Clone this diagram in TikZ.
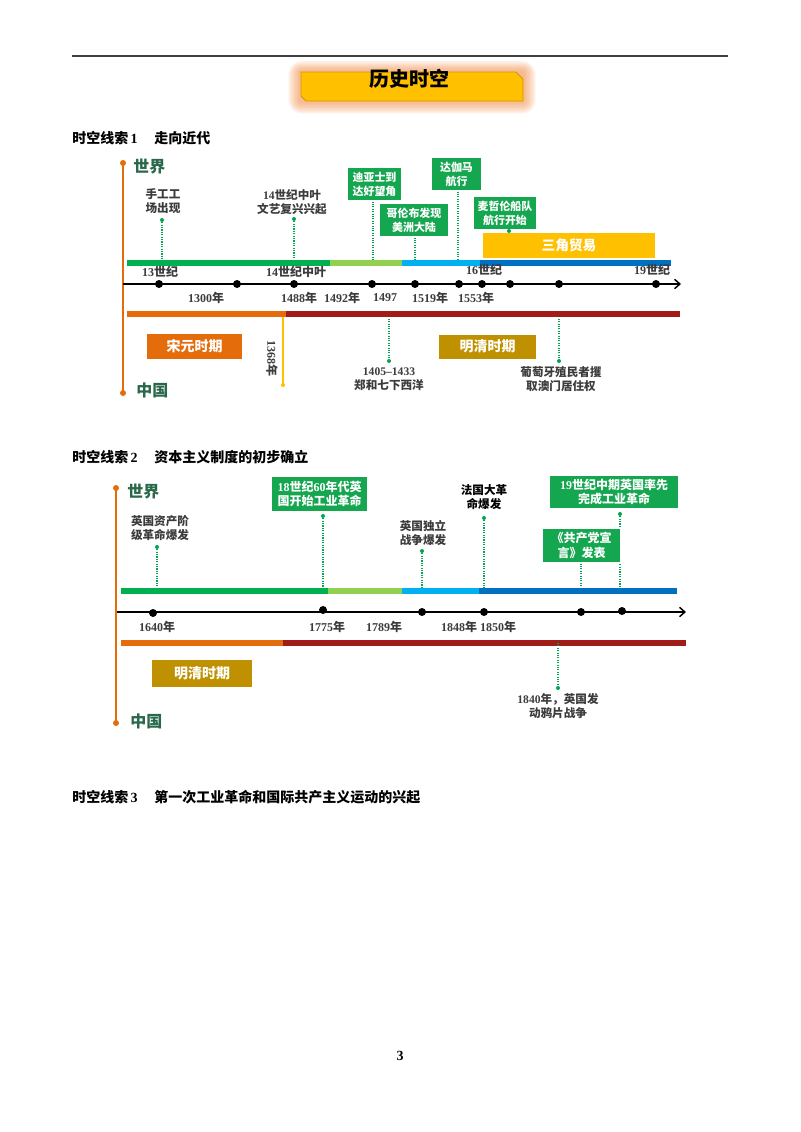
\documentclass[tikz,border=0pt]{standalone}
\usepackage{fontspec}
\setmainfont{Liberation Serif}
\newfontfamily\cjk{Noto Sans CJK SC}
\usetikzlibrary{arrows.meta}
\newcommand{\zh}[1]{{\cjk #1}}
\definecolor{boxgreen}{HTML}{15A650}
\definecolor{dkgreen}{HTML}{00B050}
\definecolor{ltgreen}{HTML}{92D050}
\definecolor{ltblue}{HTML}{00B0F0}
\definecolor{bluetwo}{HTML}{0070C0}
\definecolor{orng}{HTML}{E46C0A}
\definecolor{dkred}{HTML}{A11B17}
\definecolor{gold}{HTML}{BF9000}
\definecolor{ttl}{HTML}{FFC000}
\definecolor{ttlborder}{HTML}{D39A00}
\definecolor{glow}{HTML}{F79A5A}
\definecolor{wtxt}{HTML}{2A684A}
\definecolor{lgray}{HTML}{3C3C3C}
\definecolor{dotg}{HTML}{00A650}
\begin{document}
\begin{tikzpicture}[x=0.75pt,y=-0.75pt,
 sz/.style 2 args={minimum width={#1*0.75pt}, minimum height={#2*0.75pt}},
 lbl/.style={inner sep=0pt, align=center, text=lgray, font=\bfseries\fontsize{8.7pt}{10.5pt}\selectfont},
 datelbl/.style={inner sep=0pt, text=lgray, font=\bfseries\fontsize{9pt}{10pt}\selectfont},
 gbox/.style={fill=boxgreen, draw=white, line width=0.8pt, text=white, align=center, inner sep=0pt, font=\bfseries\fontsize{8.2pt}{10.5pt}\selectfont},
 gboxb/.style={gbox, font=\bfseries\fontsize{9pt}{11pt}\selectfont},
 pbox/.style={text=white, inner sep=0pt, font=\bfseries\fontsize{10.5pt}{12pt}\selectfont},
 side/.style={inner sep=0pt, anchor=west, text=wtxt, font=\bfseries\fontsize{12pt}{14pt}\selectfont},
 hdr/.style={inner sep=0pt, anchor=west, font=\bfseries\fontsize{10.5pt}{12pt}\selectfont},
 conn/.style={draw=dotg, densely dotted, line width=0.8pt},
 tdot/.style={circle, fill=black, inner sep=0pt, minimum size=6pt},
 gdot/.style={circle, fill=dotg, inner sep=0pt, minimum size=3pt},
 odot/.style={circle, fill=orng, inner sep=0pt, minimum size=4.5pt},
 vline/.style={draw=orng, line width=1.4pt},
 tline/.style={draw=black, line width=1.3pt, -{Straight Barb[length=4pt,width=7pt,line width=1.1pt]}},
 tbar/.style={line width=3.9pt},
 bbar/.style={line width=4.5pt},
]
\useasboundingbox (0,0) rectangle (800,1132);
\fill[white] (0,0) rectangle (800,1132);

% top rule
\coordinate (r1) at (72,56);
\coordinate (r2) at (728,56);
\draw[line width=1pt, black!75] (r1) -- (r2);

% title with glow
\foreach \g in {1,...,9}{
  \fill[glow, opacity=0.11, rounded corners={(\g*1.5)*0.75pt}] ({301-\g*1.4},{72-\g*1.2}) rectangle ({523+\g*1.4},{101+\g*1.4});
}
\fill[ttl, draw=ttlborder, line width=0.6pt] (301,72) -- (516,72) -- (523,79) -- (523,101) -- (306,101) -- (301,96) -- cycle;
\node[inner sep=0pt, font=\bfseries\fontsize{15pt}{17pt}\selectfont] (title) at (409,78.5) {\zh{历史时空}};

% ================= Timeline 1 =================
\node[hdr] (h1) at (72,138) {\zh{时空线索}\,1\hspace{1.2em}\zh{走向近代}};
\node[odot] (v1t) at (123,163) {};
\node[odot] (v1b) at (123,393) {};
\draw[vline] (v1t.center) -- (v1b.center);
\node[side] (w1) at (133,167) {\zh{世界}};
\node[side] (c1) at (136,390) {\zh{中国}};

% upper connectors
\node[lbl] (e1) at (163,201) {\zh{手工工}\\\zh{场出现}};
\node[gdot] (e1d) at (162,220) {};
\coordinate (e1b) at (162,263);
\draw[conn] (e1d) -- (e1b);

\node[lbl] (e2) at (292,202) {14\zh{世纪中叶}\\\zh{文艺复兴兴起}};
\node[gdot] (e2d) at (294,219) {};
\coordinate (e2b) at (294,263);
\draw[conn] (e2d) -- (e2b);

\node[gbox, sz={55}{34}] (e3) at (374.5,184) {\zh{迪亚士到}\\\zh{达好望角}};
\coordinate (e3b) at (373,263);
\draw[conn] (e3.south -| e3b) -- (e3b);

\node[gbox, sz={70}{34}] (e4) at (414,220) {\zh{哥伦布发现}\\\zh{美洲大陆}};
\coordinate (e4b) at (415,263);
\draw[conn] (e4.south -| e4b) -- (e4b);

\node[gbox, sz={51}{34}] (e5) at (456.5,174) {\zh{达伽马}\\\zh{航行}};
\coordinate (e5b) at (458,263);
\draw[conn] (e5.south -| e5b) -- (e5b);

\node[gbox, sz={64}{34}] (e6) at (505,213) {\zh{麦哲伦船队}\\\zh{航行开始}};
\coordinate (e6b) at (509,263);
\node[gdot] (e6d) at (509,231) {};
\draw[conn] (e6d) -- (e6b);

\node[fill=ttl, sz={172}{25}, pbox, font=\bfseries\fontsize{10.3pt}{12pt}\selectfont] (e7) at (569,245.5) {\zh{三角贸易}};

% lower connectors
\coordinate (f1b) at (389,314);
\node[gdot] (f1d) at (389,361) {};
\draw[conn] (f1b) -- (f1d);
\node[lbl] (f1) at (389,379) {1405--1433\\\zh{郑和七下西洋}};

\coordinate (f2b) at (559,314);
\node[gdot] (f2d) at (559,361) {};
\draw[conn] (f2b) -- (f2d);
\node[lbl] (f2) at (561,379) {\zh{葡萄牙殖民者攫}\\\zh{取澳门居住权}};

% top bar
\draw[tbar, dkgreen] (127,263) -- (330,263);
\draw[tbar, ltgreen] (330,263) -- (402,263);
\draw[tbar, ltblue] (402,263) -- (481,263);
\draw[tbar, bluetwo] (480,263) -- (671,263);

% axis
\coordinate (a1s) at (123,284);
\coordinate (a1e) at (681,284);
\draw[tline] (a1s) -- (a1e);
\foreach \x [count=\i] in {159,237,294,372,415,459,482,510,559,656}{
  \node[tdot] (p1-\i) at (\x,284) {};
}
\node[datelbl] (u1) at (160,272) {13\zh{世纪}};
\node[datelbl] (u2) at (296,272) {14\zh{世纪中叶}};
\node[datelbl] (u3) at (484,270) {16\zh{世纪}};
\node[datelbl] (u4) at (652,270) {19\zh{世纪}};
\node[datelbl] (d1) at (206,298) {1300\zh{年}};
\node[datelbl] (d2) at (299,298) {1488\zh{年}};
\node[datelbl] (d3) at (342,298) {1492\zh{年}};
\node[datelbl] (d4) at (385,298) {1497};
\node[datelbl] (d5) at (430,298) {1519\zh{年}};
\node[datelbl] (d6) at (476,298) {1553\zh{年}};

% bottom bar
\draw[bbar, orng] (127,314) -- (286,314);
\draw[bbar, dkred] (286,314) -- (680,314);

% 1368
\coordinate (y1s) at (283,316.5);
\node[circle, fill=ttl, inner sep=0pt, minimum size=3pt] (y1e) at (283,385) {};
\draw[ttl, line width=1.1pt] (y1s) -- (y1e.center);
\node[datelbl, rotate=-90] (d1368) at (272,358) {1368\zh{年}};

\node[fill=orng, pbox, sz={95}{25}] (s1) at (194.5,346.5) {\zh{宋元时期}};
\node[fill=gold, pbox, sz={97}{24}] (s2) at (487.5,346.5) {\zh{明清时期}};

% ================= Timeline 2 =================
\node[hdr] (h2) at (72,457) {\zh{时空线索}\,2\hspace{1.2em}\zh{资本主义制度的初步确立}};
\node[odot] (v2t) at (116,488) {};
\node[odot] (v2b) at (116,723) {};
\draw[vline] (v2t.center) -- (v2b.center);
\node[side] (w2) at (127,492) {\zh{世界}};
\node[side] (c2) at (130,721) {\zh{中国}};

\node[lbl] (g1) at (160,528.5) {\zh{英国资产阶}\\\zh{级革命爆发}};
\node[gdot] (g1d) at (157,547) {};
\coordinate (g1b) at (157,591);
\draw[conn] (g1d) -- (g1b);

\node[gboxb, sz={97}{36}] (g2) at (319.5,494) {18\zh{世纪}60\zh{年代英}\\\zh{国开始工业革命}};
\node[gdot] (g2d) at (323,516) {};
\coordinate (g2b) at (323,591);
\draw[conn] (g2d) -- (g2b);

\node[lbl] (g3) at (423,533) {\zh{英国独立}\\\zh{战争爆发}};
\node[gdot] (g3d) at (422,551) {};
\coordinate (g3b) at (422,591);
\draw[conn] (g3d) -- (g3b);

\node[lbl, text=black] (g4) at (484,497) {\zh{法国大革}\\\zh{命爆发}};
\node[gdot] (g4d) at (484,518) {};
\coordinate (g4b) at (484,591);
\draw[conn] (g4d) -- (g4b);

\node[gdot] (g5d) at (620,514) {};
\coordinate (g5b) at (620,591);
\draw[conn] (g5d) -- (g5b);
\node[gboxb, sz={130}{34}] (g5) at (614,492) {19\zh{世纪中期英国率先}\\\zh{完成工业革命}};

\node[gboxb, sz={79}{35}] (g6) at (581.5,545.5) {\zh{《共产党宣}\\\zh{言》发表}};
\coordinate (g6b) at (581,591);
\draw[conn] (g6.south -| g6b) -- (g6b);

% top bar 2
\draw[tbar, dkgreen] (121,591) -- (328,591);
\draw[tbar, ltgreen] (328,591) -- (402,591);
\draw[tbar, ltblue] (402,591) -- (480,591);
\draw[tbar, bluetwo] (479,591) -- (677,591);

% axis 2
\coordinate (a2s) at (117,612);
\coordinate (a2e) at (686,612);
\draw[tline] (a2s) -- (a2e);
\node[tdot] (q1) at (153,613) {};
\node[tdot] (q2) at (323,610) {};
\node[tdot] (q3) at (422,612) {};
\node[tdot] (q4) at (484,612) {};
\node[tdot] (q5) at (581,612) {};
\node[tdot] (q6) at (622,611) {};
\node[datelbl] (k1) at (157,627) {1640\zh{年}};
\node[datelbl] (k2) at (327,627) {1775\zh{年}};
\node[datelbl] (k3) at (384,627) {1789\zh{年}};
\node[datelbl] (k4) at (459,627) {1848\zh{年}};
\node[datelbl] (k5) at (498,627) {1850\zh{年}};

% bottom bar 2
\draw[bbar, orng] (121,643) -- (283,643);
\draw[bbar, dkred] (283,643) -- (686,643);

\coordinate (m1b) at (558,643);
\node[gdot] (m1d) at (558,688) {};
\draw[conn] (m1b) -- (m1d);
\node[lbl] (m1) at (558,706.5) {1840\zh{年，英国发}\\\zh{动鸦片战争}};

\node[fill=gold, pbox, sz={100}{27}] (s3) at (202,673.5) {\zh{明清时期}};

% ================= Header 3 =================
\node[hdr] (h3) at (72,797) {\zh{时空线索}\,3\hspace{1.2em}\zh{第一次工业革命和国际共产主义运动的兴起}};

% page number
\node[inner sep=0pt, font=\bfseries\fontsize{10.5pt}{12pt}\selectfont] (pg) at (400,1056) {3};
\end{tikzpicture}
\end{document}
